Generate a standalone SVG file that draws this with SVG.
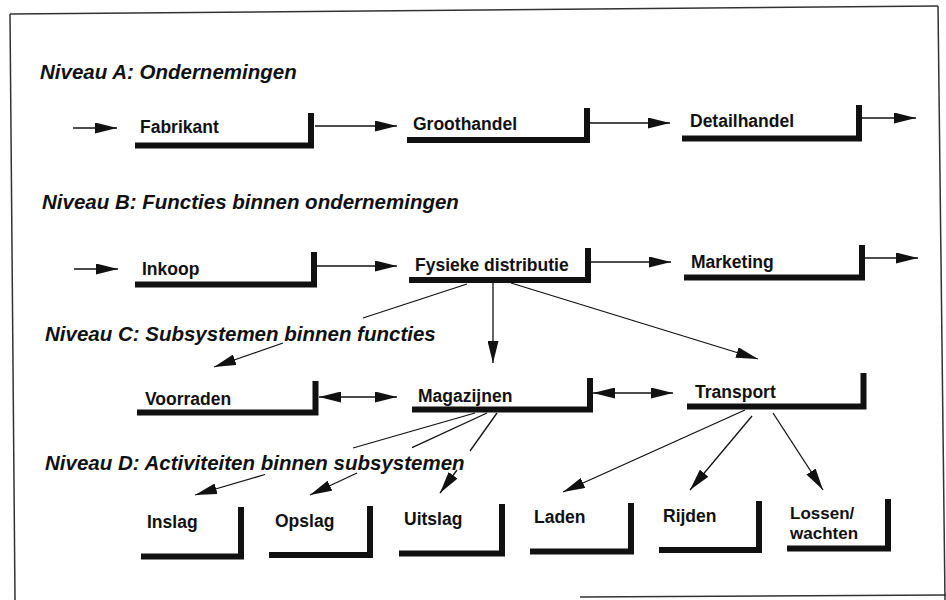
<svg xmlns="http://www.w3.org/2000/svg" width="946" height="600" viewBox="0 0 946 600">
  <defs>
    <marker id="head" markerUnits="userSpaceOnUse" markerWidth="22" markerHeight="11" refX="22" refY="5.5" orient="auto-start-reverse">
      <path d="M0,0 L22,5.5 L0,11 Z" fill="#111"/>
    </marker>
    <style>
      .frame { stroke: #333; stroke-width: 1.5; fill: none; }
      .title { font-family: "Liberation Sans", Arial, sans-serif; font-size: 20.5px; font-weight: bold; font-style: italic; fill: #111; }
      .label { font-family: "Liberation Sans", Arial, sans-serif; font-size: 17.5px; font-weight: bold; fill: #111; }
      .small { font-size: 17px; }
      .box { stroke: #111; stroke-width: 6; fill: none; stroke-linejoin: miter; }
      .conn { stroke: #111; stroke-width: 1.3; fill: none; }
      .arrow { marker-end: url(#head); }
      .both { marker-start: url(#head); marker-end: url(#head); }
    </style>
  </defs>
  <rect width="946" height="600" fill="#fff"/>

  <!-- outer frame -->
  <g id="frame">
    <path class="frame" d="M10,14 L938,6"/>
    <path class="frame" d="M10,14 L15,600"/>
    <path class="frame" d="M938,6 L945,600"/>
    <path class="frame" d="M580,597 L946,595"/>
  </g>

  <!-- level headings -->
  <g id="headings">
    <text class="title" x="40" y="79">Niveau A: Ondernemingen</text>
    <text class="title" x="42" y="209">Niveau B: Functies binnen ondernemingen</text>
    <text class="title" x="45" y="341">Niveau C: Subsystemen binnen functies</text>
    <text class="title" x="45" y="470">Niveau D: Activiteiten binnen subsystemen</text>
  </g>

  <!-- connectors -->
  <g id="connectors">
    <!-- level A -->
    <path class="conn arrow" d="M73,128 H117"/>
    <path class="conn arrow" d="M315,126 H397"/>
    <path class="conn arrow" d="M590,123 H670"/>
    <path class="conn arrow" d="M862,118 H916"/>
    <!-- level B -->
    <path class="conn arrow" d="M74,269 H118"/>
    <path class="conn arrow" d="M317,266 H397"/>
    <path class="conn arrow" d="M591,262 H671"/>
    <path class="conn arrow" d="M865,258 H918"/>
    <!-- B to C -->
    <path class="conn" d="M467,284 L363,318"/>
    <path class="conn arrow" d="M283,343 L214,367"/>
    <path class="conn arrow" d="M493,283 V363"/>
    <path class="conn arrow" d="M511,283 L758,359"/>
    <!-- level C -->
    <path class="conn both" d="M319,397 H397"/>
    <path class="conn both" d="M593,393 H673"/>
    <!-- C to D -->
    <path class="conn" d="M475,413 L353,448"/>
    <path class="conn arrow" d="M265,474.5 L195,495"/>
    <path class="conn" d="M487,413 L412,447.7"/>
    <path class="conn arrow" d="M357,473 L310,495"/>
    <path class="conn" d="M497,413 L470,451"/>
    <path class="conn arrow" d="M457,470 L440,493"/>
    <path class="conn arrow" d="M745,410 L563,492"/>
    <path class="conn arrow" d="M752,416 L690,490"/>
    <path class="conn arrow" d="M773,413 L823,490"/>
  </g>

  <!-- level A nodes -->
  <g id="fabrikant">
    <path class="box" d="M135,145.5 H311 V113"/>
    <text class="label" x="140" y="133">Fabrikant</text>
  </g>
  <g id="groothandel">
    <path class="box" d="M407,140 H587 V108"/>
    <text class="label" x="413" y="130">Groothandel</text>
  </g>
  <g id="detailhandel">
    <path class="box" d="M682,138.5 H859 V105"/>
    <text class="label" x="690" y="127">Detailhandel</text>
  </g>

  <!-- level B nodes -->
  <g id="inkoop">
    <path class="box" d="M135,284.5 H314 V252"/>
    <text class="label" x="142" y="275">Inkoop</text>
  </g>
  <g id="fysieke-distributie">
    <path class="box" d="M409,280 H588 V248"/>
    <text class="label" x="415" y="271">Fysieke distributie</text>
  </g>
  <g id="marketing">
    <path class="box" d="M684,277.5 H862 V245"/>
    <text class="label" x="691" y="268">Marketing</text>
  </g>

  <!-- level C nodes -->
  <g id="voorraden">
    <path class="box" d="M137,412.5 H315.5 V381"/>
    <text class="label" x="145" y="405">Voorraden</text>
  </g>
  <g id="magazijnen">
    <path class="box" d="M412,409.5 H590 V378"/>
    <text class="label" x="418" y="402">Magazijnen</text>
  </g>
  <g id="transport">
    <path class="box" d="M687,406.5 H863.5 V373"/>
    <text class="label" x="695" y="398">Transport</text>
  </g>

  <!-- level D nodes -->
  <g id="inslag">
    <path class="box" d="M141,556.5 H241 V507"/>
    <text class="label" x="147" y="528">Inslag</text>
  </g>
  <g id="opslag">
    <path class="box" d="M269,555 H370 V506"/>
    <text class="label" x="275" y="527">Opslag</text>
  </g>
  <g id="uitslag">
    <path class="box" d="M399,553.5 H502 V504"/>
    <text class="label" x="404" y="525">Uitslag</text>
  </g>
  <g id="laden">
    <path class="box" d="M530,551.5 H631 V503"/>
    <text class="label" x="534" y="523">Laden</text>
  </g>
  <g id="rijden">
    <path class="box" d="M659,550 H759 V501"/>
    <text class="label" x="663" y="522">Rijden</text>
  </g>
  <g id="lossen-wachten">
    <path class="box" d="M787,548.5 H888 V499"/>
    <text class="label small" x="790" y="519">Lossen/</text>
    <text class="label small" x="790" y="538.5">wachten</text>
  </g>
</svg>
